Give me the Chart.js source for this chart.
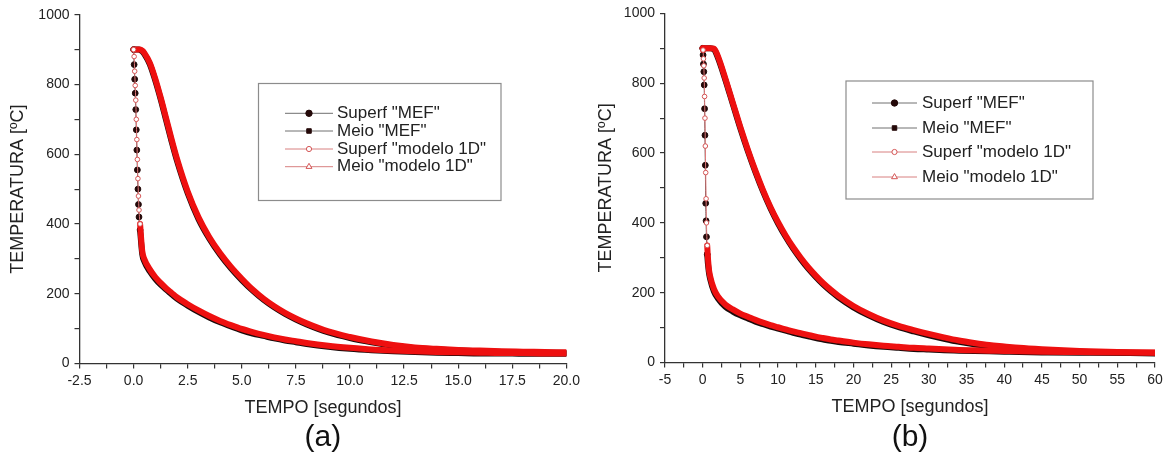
<!DOCTYPE html>
<html>
<head>
<meta charset="utf-8">
<title>Temperatura x Tempo</title>
<script src="https://cdn.jsdelivr.net/npm/chart.js@4.4.1/dist/chart.umd.min.js"></script>
<style>
html,body{margin:0;padding:0;background:#fff;}
#wrap{position:relative;width:1168px;height:457px;}
.panel{position:absolute;top:0;width:584px;height:457px;}
#panelA{left:0;}
#panelB{left:584px;}
</style>
</head>
<body>
<div id="wrap">
<div class="panel" id="panelA"><canvas id="chartA" width="584" height="457"></canvas></div>
<div class="panel" id="panelB"><canvas id="chartB" width="584" height="457"></canvas></div>
</div>
<script>

/* -------- DATA (a): 0 - 20 s -------- */

const timeA = [0,0.025,0.05,0.075,0.1,0.125,0.15,0.175,0.2,0.225,0.25,0.3,0.4,0.5,0.75,1,1.25,1.5,1.75,2,2.5,3,3.5,4,4.5,5,5.5,6,6.5,7,7.5,8,9,10,11,12,13,14,15,16,17,18,19,20];
const superfMefA = [900,857,815,775,728,670,612,555,500,456,420,383,313,292,264,243,226,212,199,186,166,148,132,118,106,95,86,79,72,66,61,56,48,42,38,35,33,31,30,29,29,28,28,28];
const meioMefA = [900,900,900,900,900,900,900,900,900,900,900,899,895,887,858,812,758,698,638,582,488,414,358,312,273,239,209,183,161,142,126,112,89,73,61,51,44,40,37,35,33,32,31,30];
const superf1dA = [900,880,838,797,755,700,642,585,530,480,440,400,322,299,270,248,231,216,203,190,170,152,136,122,110,99,90,82,75,69,64,59,51,45,40,37,35,33,32,31,30,30,29,29];
const meio1dA = [900,900,900,900,900,900,900,900,900,900,900,900,897,890,862,817,763,704,644,588,493,419,362,316,277,243,212,186,164,145,129,115,92,76,63,53,46,42,39,37,35,34,33,32];

/* -------- DATA (b): 0 - 60 s -------- */

const timeB = [0,0.05,0.1,0.15,0.2,0.25,0.3,0.35,0.4,0.45,0.5,0.6,0.8,1,1.5,2,3,4,5,6,7,8,9,10,11,12,13,14,15,16,17,18,20,22,24,26,28,30,32,34,36,38,40,42,45,50,55,60];
const superfMefB = [900,881,855,833,795,727,651,565,456,406,360,310,262,238,203,184,160,146,135,126,117,110,103,97,91,85,80,75,70,66,62,59,54,49,45,42,39,37,35,34,33,32,31,30,29,28,28,27];
const meioMefB = [900,900,900,900,900,900,900,900,900,900,900,900,900,900,897,874,810,740,670,605,545,490,441,398,360,326,296,269,245,223,204,187,158,135,116,101,89,78,68,59,52,47,43,39,35,31,28,26];
const superf1dB = [900,895,870,850,815,762,700,620,544,469,400,335,272,246,210,190,166,152,140,131,122,114,107,101,95,89,84,79,74,70,66,63,57,52,48,45,42,40,38,36,35,34,33,32,31,30,29,29];
const meio1dB = [900,900,900,900,900,900,900,900,900,900,900,900,900,900,899,878,814,744,674,609,549,494,445,402,364,330,300,273,249,227,208,191,162,139,120,105,93,82,72,63,56,50,46,42,38,33,30,28];

const seriesLabels = ['Superf "MEF"', 'Meio "MEF"', 'Superf "modelo 1D"', 'Meio "modelo 1D"'];

/* -------- STYLE -------- */

const FONT = "'Liberation Sans', Arial, sans-serif";
Chart.defaults.font.family = FONT;
Chart.defaults.color = '#222';

const BAND_W = 6;

// where the curve falls almost vertically the samples are far apart:
// draw a thin line with markers there, a thick band everywhere else
function steepPx(dx, dy){
return Math.abs(dx) < 1.2 && Math.abs(dy) > 3;
}

function segSteep(c){
return steepPx(c.p1.x - c.p0.x, c.p1.y - c.p0.y);
}

function pointOnDrop(c){
const d = c.dataset.data, i = c.dataIndex;
const xs = c.chart.scales.x, ys = c.chart.scales.y;
const st = (a,b) => steepPx(xs.getPixelForValue(b.x) - xs.getPixelForValue(a.x), ys.getPixelForValue(b.y) - ys.getPixelForValue(a.y));
return (i > 0 && st(d[i-1], d[i])) || (i < d.length-1 && st(d[i], d[i+1]));
}

function series(label, times, values, mef, shape){
return {
label: label,
data: times.map((t,i) => ({x:t, y:values[i]})),
order: mef ? 2 : 1,
borderColor: mef ? '#1c0a0a' : '#ee1010',
borderWidth: BAND_W,
borderJoinStyle: 'round',
borderCapStyle: 'round',
cubicInterpolationMode: 'monotone',
fill: false,
pointStyle: shape,
pointRadius: c => pointOnDrop(c) ? (mef ? 2.9 : 2.3) : 0,
pointHoverRadius: 0,
pointBackgroundColor: mef ? '#240909' : '#ffffff',
pointBorderColor: mef ? '#240909' : '#d45555',
pointBorderWidth: 1,
legendLine: mef ? '#707070' : '#d88080',
legendRadius: mef ? 3.2 : (shape === 'triangle' ? 3.4 : 2.6),
segment: {
borderWidth: c => segSteep(c) ? 1 : BAND_W,
borderColor: c => segSteep(c) ? (mef ? '#5a4646' : '#e07a7a') : undefined
}
};
}

/* -------- LEGEND BOX -------- */

const boxLegend = {
id: 'boxLegend',
afterDatasetsDraw(chart, args, o){
const c = chart.ctx;
c.save();
c.strokeStyle = '#8c8c8c';
c.lineWidth = 1.2;
c.strokeRect(o.left, o.top, o.right - o.left, o.bottom - o.top);
c.font = o.fontSize + 'px ' + FONT;
c.textBaseline = 'middle';
chart.data.datasets.forEach((ds,i) => {
const y = o.rows[i];
c.strokeStyle = ds.legendLine;
c.lineWidth = 1;
c.beginPath();
c.moveTo(o.lineFrom, y);
c.lineTo(o.lineTo, y);
c.stroke();
c.fillStyle = ds.pointBackgroundColor;
c.strokeStyle = ds.pointBorderColor;
Chart.helpers.drawPoint(c, {pointStyle: ds.pointStyle, radius: ds.legendRadius, borderWidth: 1, rotation: 0}, (o.lineFrom + o.lineTo)/2, y);
c.fillStyle = '#222';
c.fillText(ds.label, o.textX, y);
});
c.restore();
}
};

/* -------- PANEL CAPTION -------- */

const caption = {
id: 'caption',
afterDraw(chart, args, o){
const c = chart.ctx, a = chart.chartArea;
c.save();
c.font = o.size + 'px ' + FONT;
c.fillStyle = '#111';
c.textAlign = 'center';
c.textBaseline = 'middle';
c.fillText(o.text, (a.left + a.right)/2, o.y);
c.restore();
}
};

/* -------- CHART -------- */

function makeChart(id, p){

const isMajor = (v, every) => Math.abs(v/every - Math.round(v/every)) < 1e-6;

return new Chart(document.getElementById(id), {
type: 'line',
data: {
datasets: [
series(seriesLabels[0], p.times, p.superfMef, true, 'circle'),
series(seriesLabels[1], p.times, p.meioMef, true, 'rect'),
series(seriesLabels[2], p.times, p.superf1d, false, 'circle'),
series(seriesLabels[3], p.times, p.meio1d, false, 'triangle')
]
},
options: {
responsive: false,
animation: false,
events: [],
layout: { padding: p.padding },
scales: {
x: {
type: 'linear',
min: p.xMin,
max: p.xMax,
grid: { drawOnChartArea: false, drawTicks: true, tickLength: 5, color: '#333', lineWidth: 1.2 },
border: { color: '#333', width: 1.3 },
ticks: {
stepSize: p.xStep,
autoSkip: false,
maxRotation: 0,
padding: 4,
font: { size: 14 },
color: '#222',
callback: v => isMajor(v, p.xEvery) ? v.toFixed(p.xDecimals) : ''
},
title: { display: true, text: 'TEMPO [segundos]', font: { size: 18 }, color: '#222', padding: { top: 0, bottom: 1 } },
afterFit: s => { s.height = 56; }
},
y: {
type: 'linear',
min: 0,
max: 1000,
grid: { drawOnChartArea: false, drawTicks: true, tickLength: 5, color: '#333', lineWidth: 1.2 },
border: { color: '#333', width: 1.3 },
ticks: {
stepSize: 100,
autoSkip: false,
padding: 5,
font: { size: 14 },
color: '#222',
callback: v => v % 200 === 0 ? v : ''
},
title: { display: true, text: 'TEMPERATURA [ºC]', font: { size: 18 }, color: '#222', padding: { top: p.yTitlePad, bottom: 0 } },
afterFit: s => { s.width = p.yWidth; }
}
},
plugins: {
legend: { display: false },
tooltip: { enabled: false },
boxLegend: p.legend,
caption: { text: p.caption, y: 438, size: 30 }
}
},
plugins: [boxLegend, caption]
});

}

makeChart('chartA', {
times: timeA, superfMef: superfMefA, meioMef: meioMefA, superf1d: superf1dA, meio1d: meio1dA,
xMin: -2.5, xMax: 20, xStep: 1.25, xEvery: 2.5, xDecimals: 1,
yWidth: 79.5, yTitlePad: 7,
padding: { top: 14.7, right: 16, bottom: 37.5, left: 0 },
legend: { left: 258.5, top: 83.5, right: 501, bottom: 200.5, rows: [113.3, 131, 149, 166.7], lineFrom: 285, lineTo: 333, textX: 337, fontSize: 17 },
caption: '(a)'
});

makeChart('chartB', {
times: timeB, superfMef: superfMefB, meioMef: meioMefB, superf1d: superf1dB, meio1d: meio1dB,
xMin: -5, xMax: 60, xStep: 2.5, xEvery: 5, xDecimals: 0,
yWidth: 81, yTitlePad: 11,
padding: { top: 10.7, right: 13, bottom: 38.5, left: 0 },
legend: { left: 262, top: 81, right: 509, bottom: 199, rows: [103, 128, 152, 177], lineFrom: 288, lineTo: 333, textX: 338, fontSize: 17 },
caption: '(b)'
});

</script>
</body>
</html>
